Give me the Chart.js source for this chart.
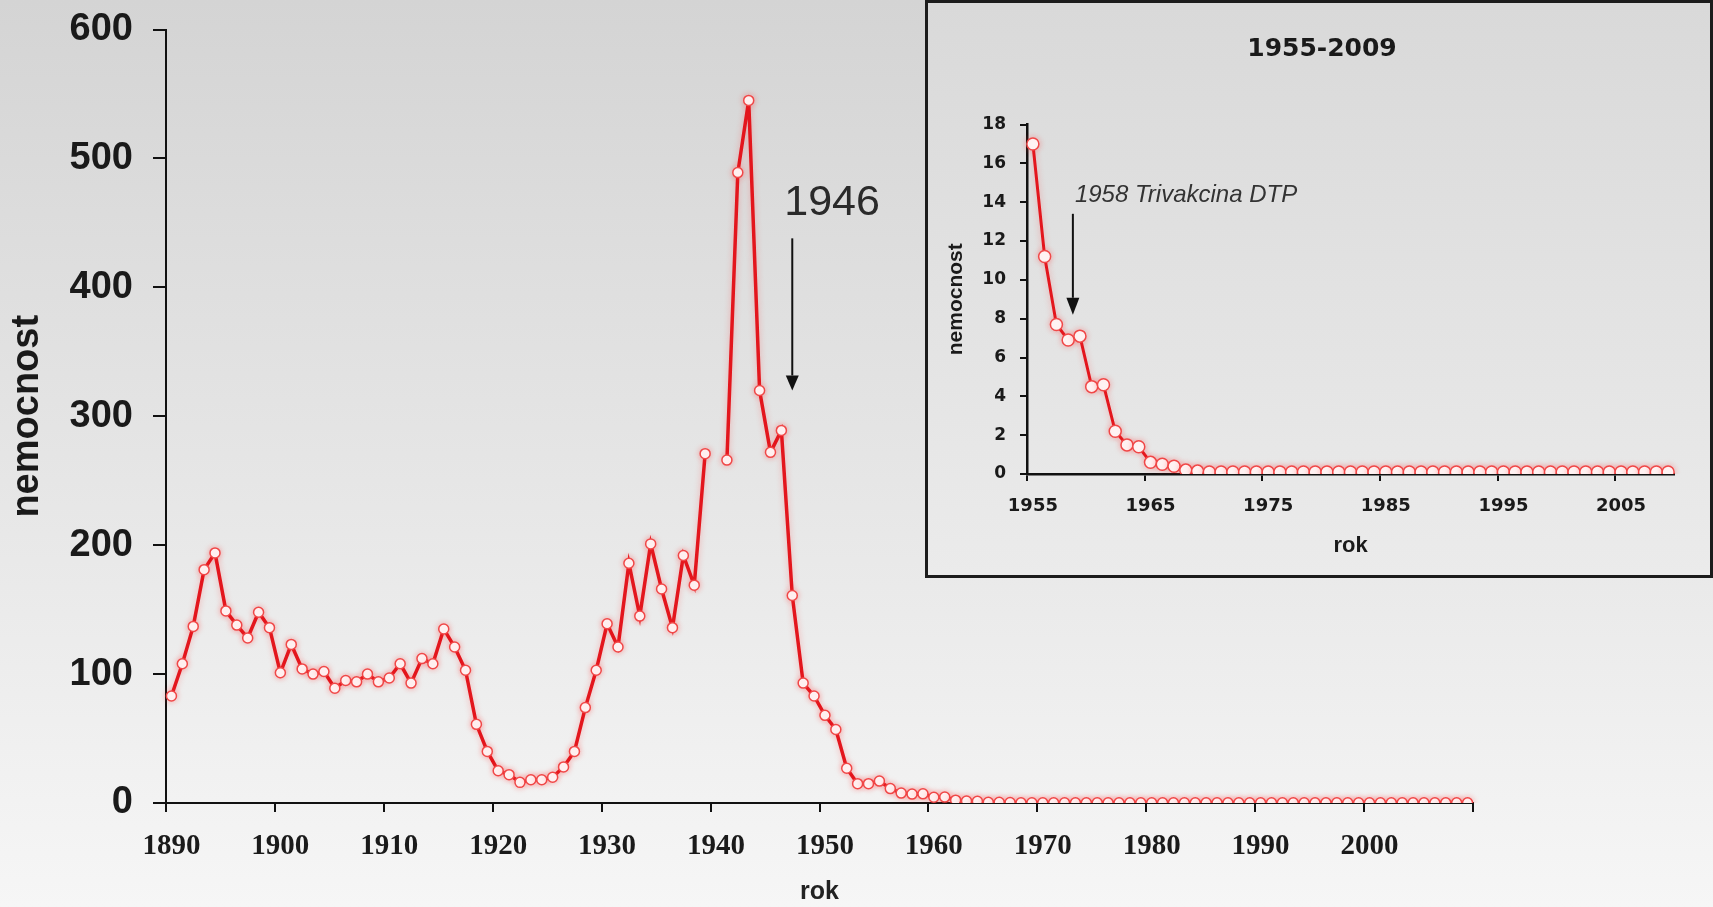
<!DOCTYPE html>
<html lang="cs">
<head>
<meta charset="utf-8">
<title>Nemocnost 1890–2009</title>
<script src="https://cdn.jsdelivr.net/npm/chart.js@4.4.1/dist/chart.umd.min.js"></script>
<style>
  html, body { margin: 0; padding: 0; overflow: hidden; }
  body { width: 1713px; height: 907px; position: relative; background: linear-gradient(#d4d4d4, #f6f6f6); }
  #main { position: absolute; left: 0; top: 0; width: 1713px; height: 907px; }
  #inset {
    position: absolute; left: 925px; top: 0; width: 788px; height: 578px;
    box-sizing: border-box; border: 3px solid #1c1c1c;
    background: linear-gradient(#d9d9d9, #ebebeb);
  }
</style>
</head>
<body>
<div id="main"><canvas id="mainChart"></canvas></div>
<div id="inset"><canvas id="insetChart"></canvas></div>

<script>
// roky 1890–2009
const years = [];
for (let y = 1890; y <= 2009; y++) years.push(String(y));

// nemocnost (1940 chybí)
const nemocnost = [
  83, 108, 137, 181, 194, 149, 138, 128, 148, 136,   // 1890–1899
  101, 123, 104, 100, 102, 89, 95, 94, 100, 94,      // 1900–1909
  97, 108, 93, 112, 108, 135, 121, 103, 61, 40,      // 1910–1919
  25, 22, 16, 18, 18, 20, 28, 40, 74, 103,           // 1920–1929
  139, 121, 186, 145, 201, 166, 136, 192, 169, 271,  // 1930–1939
  null, 266, 489, 545, 320, 272, 289, 161, 93, 83,   // 1940–1949
  68, 57, 27, 15, 15, 17, 11.2, 7.7, 6.9, 7.1,       // 1950–1959
  4.5, 4.6, 2.2, 1.5, 1.4, 0.6, 0.5, 0.4, 0.2, 0.15, // 1960–1969
  0.1, 0.1, 0.1, 0.1, 0.1, 0.1, 0.1, 0.1, 0.1, 0.1,  // 1970–1979
  0.1, 0.1, 0.1, 0.1, 0.1, 0.1, 0.1, 0.1, 0.1, 0.1,  // 1980–1989
  0.1, 0.1, 0.1, 0.1, 0.1, 0.1, 0.1, 0.1, 0.1, 0.1,  // 1990–1999
  0.1, 0.1, 0.1, 0.1, 0.1, 0.1, 0.1, 0.1, 0.1, 0.1   // 2000–2009
];

const mainTickLabels = ['1890', '1900', '1910', '1920', '1930', '1940', '1950', '1960', '1970', '1980', '1990', '2000'];

// výřez 1955–2009
const insetStart = years.indexOf('1955');
const insetYears = years.slice(insetStart);
const insetValues = nemocnost.slice(insetStart);
const insetTickLabels = ['1955', '1965', '1975', '1985', '1995', '2005'];

const RED = '#e3161d';
const INK = '#1a1a1a';

function arrow(ctx, x, yTop, yTip, headW, headH) {
  ctx.save();
  ctx.strokeStyle = '#111';
  ctx.fillStyle = '#111';
  ctx.lineWidth = 2;
  ctx.beginPath();
  ctx.moveTo(x, yTop);
  ctx.lineTo(x, yTip - headH);
  ctx.stroke();
  ctx.beginPath();
  ctx.moveTo(x - headW / 2, yTip - headH);
  ctx.lineTo(x + headW / 2, yTip - headH);
  ctx.lineTo(x, yTip);
  ctx.closePath();
  ctx.fill();
  ctx.restore();
}

// jemná červená záře kolem křivky
const glow = {
  id: 'glow',
  beforeDatasetsDraw(chart) {
    chart.ctx.save();
    chart.ctx.shadowColor = 'rgba(255, 60, 60, 0.35)';
    chart.ctx.shadowBlur = 6;
  },
  afterDatasetsDraw(chart) {
    chart.ctx.restore();
  }
};

// popisek 1946 a šipka
const mainNotes = {
  id: 'mainNotes',
  afterDraw(chart) {
    const { ctx, scales: { x, y } } = chart;
    const ax = x.getPixelForValue(years.indexOf('1947'));
    ctx.save();
    ctx.font = '43px "Liberation Sans", Arial, sans-serif';
    ctx.fillStyle = '#2a2a2a';
    ctx.textAlign = 'left';
    ctx.textBaseline = 'alphabetic';
    ctx.fillText('1946', ax - 8, y.getPixelForValue(456));
    ctx.restore();
    arrow(ctx, ax, y.getPixelForValue(438), y.getPixelForValue(320), 13, 15);
  }
};

const insetNotes = {
  id: 'insetNotes',
  afterDraw(chart) {
    const { ctx, scales: { x, y } } = chart;
    ctx.save();
    ctx.font = 'bold 25px "DejaVu Sans", sans-serif';
    ctx.fillStyle = INK;
    ctx.textAlign = 'center';
    ctx.textBaseline = 'middle';
    ctx.fillText('1955-2009', chart.width / 2 + 3, 46);

    const ax = x.getPixelForValue(3.4);
    ctx.font = 'italic 24px "Liberation Sans", Arial, sans-serif';
    ctx.fillStyle = '#333';
    ctx.textAlign = 'left';
    ctx.textBaseline = 'alphabetic';
    ctx.fillText('1958 Trivakcina DTP', ax + 2, y.getPixelForValue(14));
    ctx.restore();
    arrow(ctx, ax, y.getPixelForValue(13.4), y.getPixelForValue(8.2), 13, 17);
  }
};

const tickColor = (labels) => (c) => {
  if (c.index === undefined) return '#111';
  return labels.includes(c.chart.data.labels[c.index]) ? '#111' : 'rgba(0,0,0,0)';
};

/* HLAVNÍ GRAF */
new Chart(document.getElementById('mainChart'), {
  type: 'line',
  data: {
    labels: years,
    datasets: [{
      data: nemocnost,
      borderColor: RED,
      borderWidth: 3.5,
      pointRadius: 5,
      pointBorderWidth: 1.5,
      pointBorderColor: '#f04848',
      pointBackgroundColor: '#ffffff',
      spanGaps: false,
      tension: 0,
    }],
  },
  options: {
    responsive: true,
    maintainAspectRatio: false,
    animation: false,
    layout: { padding: { left: 0, right: 240, top: 29.5, bottom: 0 } },
    plugins: { legend: { display: false }, tooltip: { enabled: false } },
    scales: {
      x: {
        type: 'category',
        offset: true,
        afterFit: (s) => { s.height = 104; },
        grid: { offset: true, drawOnChartArea: false, drawTicks: true, tickLength: 9, lineWidth: 2, color: tickColor(mainTickLabels) },
        border: { display: true, color: '#111', width: 2 },
        ticks: {
          autoSkip: false, maxRotation: 0, minRotation: 0, padding: 17, color: INK,
          font: { family: '"Liberation Serif", "Times New Roman", serif', size: 29, weight: 'bold' },
          callback: (v, i) => (mainTickLabels.includes(years[i]) ? years[i] : ''),
        },
        title: {
          display: true, text: 'rok', color: '#222',
          font: { family: '"Liberation Sans", Arial, sans-serif', size: 25, weight: 'bold' },
          padding: { top: 0, bottom: 0 },
        },
      },
      y: {
        min: 0,
        max: 600,
        afterFit: (s) => { s.width = 166; s.paddingTop = 0; s.paddingBottom = 0; },
        grid: { drawOnChartArea: false, drawTicks: true, tickLength: 13, lineWidth: 2, color: '#111' },
        border: { display: true, color: '#111', width: 2 },
        ticks: {
          stepSize: 100, padding: 20, color: INK,
          font: { family: '"Liberation Sans", Arial, sans-serif', size: 38, weight: 'bold' },
        },
        title: {
          display: true, text: 'nemocnost', color: INK,
          font: { family: '"Liberation Sans", Arial, sans-serif', size: 38, weight: 'bold' },
          padding: { top: 5, bottom: 0 },
        },
      },
    },
  },
  plugins: [glow, mainNotes],
});

/* VLOŽENÝ GRAF 1955–2009 */
new Chart(document.getElementById('insetChart'), {
  type: 'line',
  data: {
    labels: insetYears,
    datasets: [{
      data: insetValues,
      borderColor: RED,
      borderWidth: 3,
      pointRadius: 6,
      pointBorderWidth: 1.5,
      pointBorderColor: '#f04848',
      pointBackgroundColor: '#ffffff',
      tension: 0,
    }],
  },
  options: {
    responsive: true,
    maintainAspectRatio: false,
    animation: false,
    layout: { padding: { left: 0, right: 36, top: 121.5, bottom: 0 } },
    plugins: { legend: { display: false }, tooltip: { enabled: false } },
    scales: {
      x: {
        type: 'category',
        offset: true,
        afterFit: (s) => { s.height = 101; },
        grid: {
          offset: true, drawOnChartArea: false, drawTicks: true, tickLength: 7, lineWidth: 2,
          color: (c) => (c.index !== undefined && insetTickLabels.includes(insetYears[c.index]) ? '#111' : 'rgba(0,0,0,0)'),
        },
        border: { display: true, color: '#111', width: 2.5 },
        ticks: {
          autoSkip: false, maxRotation: 0, minRotation: 0, padding: 15, color: INK,
          font: { family: '"DejaVu Sans", sans-serif', size: 18, weight: 'bold' },
          callback: (v, i) => (insetTickLabels.includes(insetYears[i]) ? insetYears[i] : ''),
        },
        title: {
          display: true, text: 'rok', color: INK,
          font: { family: '"Liberation Sans", Arial, sans-serif', size: 22, weight: 'bold' },
          padding: { top: 0, bottom: 16 },
        },
      },
      y: {
        min: 0,
        max: 18,
        afterFit: (s) => { s.width = 99; },
        grid: { drawOnChartArea: false, drawTicks: true, tickLength: 7, lineWidth: 2, color: '#111' },
        border: { display: true, color: '#111', width: 2.5 },
        ticks: {
          stepSize: 2, padding: 14, color: INK,
          font: { family: '"DejaVu Sans", sans-serif', size: 17, weight: 'bold' },
        },
        title: {
          display: true, text: 'nemocnost', color: INK,
          font: { family: '"Liberation Sans", Arial, sans-serif', size: 21, weight: 'bold' },
          padding: { top: 16, bottom: 0 },
        },
      },
    },
  },
  plugins: [glow, insetNotes],
});
</script>
</body>
</html>
